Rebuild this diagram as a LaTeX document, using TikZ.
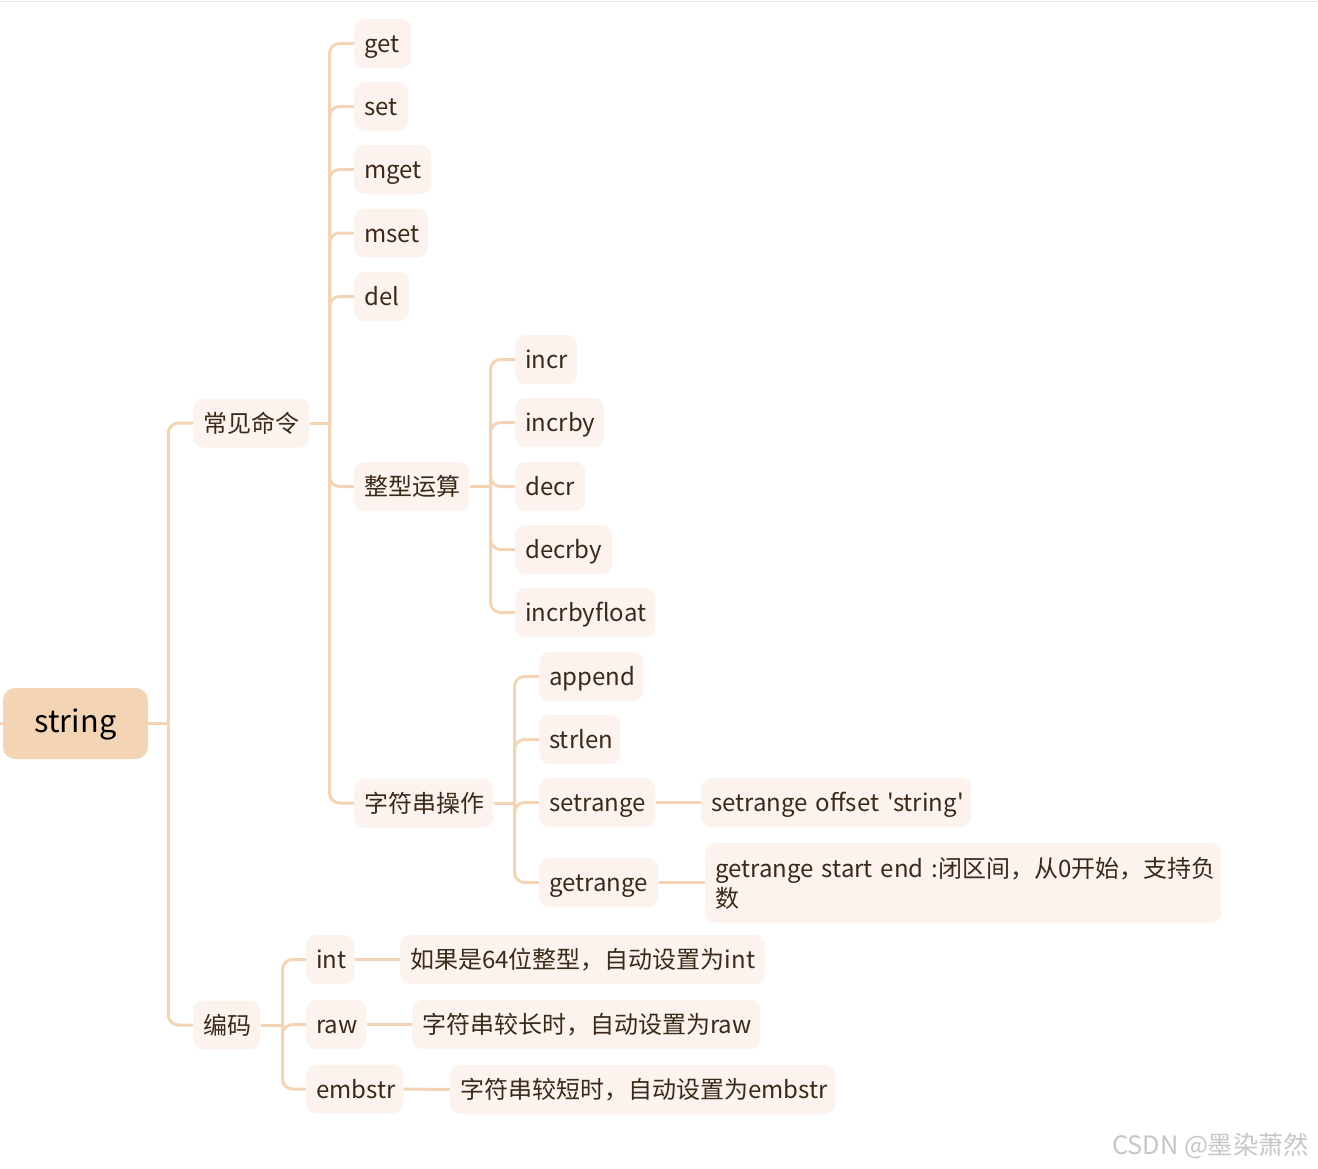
\documentclass[tikz,border=0pt]{standalone}
\usepackage{fontspec}
\setmainfont{Noto Sans CJK SC}[Ligatures=TeXOff]
\usetikzlibrary{calc}
\definecolor{linec}{HTML}{F3D5B5}
\definecolor{boxc}{HTML}{FCF3EE}
\definecolor{rootc}{HTML}{F3D5B5}
\definecolor{txt}{HTML}{3B2A1A}
\begin{document}
\begin{tikzpicture}[x=0.75pt,y=-0.75pt,
  box/.style={fill=boxc, rounded corners=7.5pt, minimum height=36.75pt,
    inner xsep=7.5pt, inner ysep=0pt, anchor=west, text=txt, align=left,
    text width=#1, text height=17pt, text depth=3.4pt,
    font=\fontsize{18}{22.5}\selectfont},
  conn/.style={draw=linec, line width=2.25pt, rounded corners=7.5pt},
  stub/.style={draw=linec, line width=2.25pt}]
\useasboundingbox (0,0) rectangle (1318,1168);
\draw[gray!20, line width=1.2pt] (0,1.5) -- (1318,1.5);

% root
\node[fill=rootc, text=black, rounded corners=9pt, minimum width=108.75pt,
  minimum height=53.25pt, text height=18pt, text depth=5pt,
  font=\fontsize{23}{27}\selectfont] (root) at (75.5,723.5) {string};

% level 1
\node[box=72pt] (cmd) at (193,423) {常见命令};
\node[box=35.25pt] (enc) at (193,1025) {编码};

% level 2 under 常见命令
\node[box=27.75pt] (get) at (354,43.5) {get};
\node[box=25.5pt] (set) at (354,106.5) {set};
\node[box=42.75pt] (mget) at (354,169.5) {mget};
\node[box=40.5pt] (mset) at (354,233) {mset};
\node[box=26.25pt] (del) at (354,296.5) {del};
\node[box=71.25pt] (arith) at (354,486.5) {整型运算};
\node[box=89.25pt] (strop) at (354,803) {字符串操作};

% 整型运算 children
\node[box=31.5pt] (incr) at (515,359.5) {incr};
\node[box=51.75pt] (incrby) at (515,422.5) {incrby};
\node[box=37.5pt] (decr) at (515,486.5) {decr};
\node[box=57.75pt] (decrby) at (515,549.5) {decrby};
\node[box=90pt] (incrbyfloat) at (515,612.5) {incrbyfloat};

% 字符串操作 children
\node[box=63pt] (append) at (539,676.5) {append};
\node[box=45.75pt] (strlen) at (539,739.5) {strlen};
\node[box=72pt] (setrange) at (539,802.5) {setrange};
\node[box=74.25pt] (getrange) at (539,882.5) {getrange};
\node[box=187.5pt] (sro) at (701,802.5) {\mbox{setrange offset 'string'}};
\node[box=372pt, minimum height=60pt, text height=, text depth=] (gro) at (705,883) {\mbox{getrange start end :闭区间，从0开始，支持负}\\数};

% 编码 children
\node[box=21pt] (int) at (306,959.5) {int};
\node[box=30pt] (raw) at (306,1024.5) {raw};
\node[box=57.75pt] (embstr) at (306,1089) {embstr};
\node[box=258.75pt] (intd) at (400,959.5) {\mbox{如果是64位整型，自动设置为int}};
\node[box=246pt] (rawd) at (412,1024.5) {\mbox{字符串较长时，自动设置为raw}};
\node[box=273.75pt] (embd) at (450,1089.5) {\mbox{字符串较短时，自动设置为embstr}};

% connectors
\coordinate (rl) at ($(root.west)+(-5,0)$);
\draw[stub] (root.west) -- (rl);

\coordinate (t0) at ($(root.east)+(20,0)$);
\draw[stub] (root.east) -- (t0);
\foreach \c in {cmd,enc} \draw[conn] (t0) |- (\c.west);

\coordinate (t1) at ($(cmd.east)+(20,0)$);
\draw[stub] (cmd.east) -- (t1);
\foreach \c in {get,set,mget,mset,del,arith,strop} \draw[conn] (t1) |- (\c.west);

\coordinate (t2) at ($(arith.east)+(21,0)$);
\draw[stub] (arith.east) -- (t2);
\foreach \c in {incr,incrby,decr,decrby,incrbyfloat} \draw[conn] (t2) |- (\c.west);

\coordinate (t3) at ($(strop.east)+(21,0)$);
\draw[stub] (strop.east) -- (t3);
\foreach \c in {append,strlen,setrange,getrange} \draw[conn] (t3) |- (\c.west);

\coordinate (t4) at ($(enc.east)+(22,0)$);
\draw[stub] (enc.east) -- (t4);
\foreach \c in {int,raw,embstr} \draw[conn] (t4) |- (\c.west);

\draw[stub] (setrange.east) -- (sro.west);
\draw[stub] (getrange.east) -- (getrange.east -| gro.west);
\draw[stub] (int.east) -- (intd.west);
\draw[stub] (raw.east) -- (rawd.west);
\draw[stub] (embstr.east) -- (embd.west);

% watermark
\node[anchor=east, text=gray!45, font=\fontsize{19}{21}\selectfont] (wm) at (1314,1146) {CSDN @墨染萧然};
\end{tikzpicture}
\end{document}
